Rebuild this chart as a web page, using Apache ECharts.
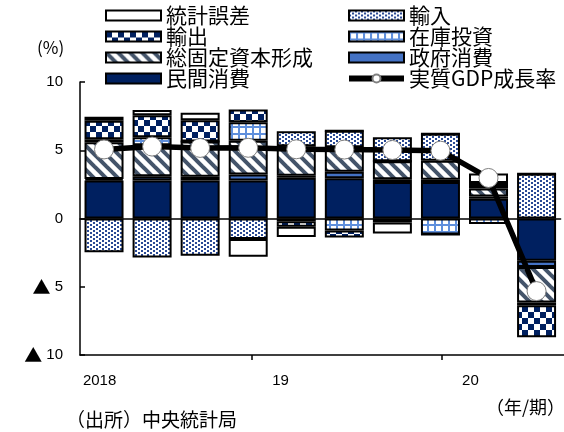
<!DOCTYPE html>
<html>
<head>
<meta charset="utf-8">
<script src="https://cdn.jsdelivr.net/npm/echarts@6/dist/echarts.min.js"></script>
<style>
  html, body { margin: 0; padding: 0; background: #fff; }
  #chart { width: 564px; height: 432px; }
</style>
</head>
<body>
<div id="chart"></div>
<script>
// Quarterly real GDP growth and expenditure-side contributions (%pt)
const quarters = ['2018Q1', '2018Q2', '2018Q3', '2018Q4', '2019Q1', '2019Q2', '2019Q3', '2019Q4', '2020Q1', '2020Q2'];
const privateConsumption = [2.79, 2.79, 2.79, 2.79, 2.98, 2.94, 2.67, 2.68, 1.45, -3.10];
const governmentConsumption = [0.10, 0.30, 0.26, 0.44, 0.15, 0.48, 0.20, 0.15, 0.17, -0.45];
const fixedInvestment = [2.70, 2.28, 2.60, 2.46, 2.16, 1.80, 1.32, 1.40, 0.58, -2.60];
const inventories = [0.22, 0.59, 0.00, 1.36, -0.20, -0.88, 0.00, -1.18, -0.40, -0.20];
const exportsContrib = [1.36, 1.61, 1.55, 0.93, -0.40, -0.52, -0.30, 0.00, 0.25, -2.35];
const importsContrib = [-2.48, -2.85, -2.72, -1.50, 1.11, 1.21, 1.77, 1.98, 0.15, 3.28];
const discrepancy = [0.29, 0.37, 0.55, -1.30, -0.75, 0.00, -0.80, 0.00, 0.70, 0.00];
const realGdpGrowth = [5.06, 5.27, 5.17, 5.18, 5.07, 5.05, 5.02, 4.97, 2.97, -5.32];

// Year axis: labels and ticks measured in quarters from the left edge
const yearLabels = ['2018', '19', '20'];
const yearLabelPos = [0.06, 4.0, 7.95];
const yearTickPos = [3.58, 7.53];
const quarterSpan = 10.07;

const NAVY = '#002060';
const BLUE = '#4472C4';

function makePattern(w, h, draw) {
  const c = document.createElement('canvas');
  c.width = w; c.height = h;
  const ctx = c.getContext('2d');
  ctx.fillStyle = '#ffffff';
  ctx.fillRect(0, 0, w, h);
  draw(ctx, w, h);
  return { image: c, repeat: 'repeat' };
}

const checkerFill = makePattern(12, 12, (ctx) => {
  ctx.fillStyle = NAVY;
  ctx.fillRect(0, 0, 6, 6);
  ctx.fillRect(6, 6, 6, 6);
});
const dottedFill = makePattern(6, 4, (ctx) => {
  ctx.fillStyle = '#2a4a95';
  ctx.fillRect(0, 0, 2, 2);
  ctx.fillRect(3, 2, 2, 2);
});
const gridFill = makePattern(7, 7, (ctx) => {
  ctx.fillStyle = '#5f8fdc';
  ctx.fillRect(0, 0, 7, 2);
  ctx.fillRect(0, 0, 2, 7);
});
const stripeFill = makePattern(12, 12, (ctx) => {
  ctx.strokeStyle = '#44546A';
  ctx.lineWidth = 4;
  for (const c of [-12, 0, 12]) {
    ctx.beginPath();
    ctx.moveTo(-2, c - 2);
    ctx.lineTo(14, c + 14);
    ctx.stroke();
  }
});

const border = { borderColor: '#000', borderWidth: 2 };

function barSeries(name, data, fill) {
  return {
    name, type: 'bar', stack: 'total', data,
    barWidth: 39,
    itemStyle: Object.assign({ color: fill }, border),
    z: 2
  };
}

function yearLabelAt(v) {
  const k = yearLabelPos.findIndex((p) => Math.abs(p - v) < 1e-6);
  return k >= 0 ? yearLabels[k] : '';
}

const chart = echarts.init(document.getElementById('chart'), null, { renderer: 'canvas' });

const legendText = { fontSize: 21, fontFamily: "'Noto Sans CJK JP', sans-serif", color: '#000', lineHeight: 20 };

chart.setOption({
  animation: false,
  backgroundColor: '#fff',
  legend: [
    {
      left: 105, top: 5, padding: 0, orient: 'vertical', itemWidth: 55, itemHeight: 10, itemGap: 0,
      selectedMode: false, textStyle: legendText,
      data: [
        { name: '統計誤差', icon: 'rect' },
        { name: '輸出', icon: 'rect' },
        { name: '総固定資本形成', icon: 'rect' },
        { name: '民間消費', icon: 'rect' }
      ]
    },
    {
      left: 346, top: 5, padding: 0, orient: 'vertical', itemWidth: 55, itemHeight: 10, itemGap: 0,
      selectedMode: false, textStyle: legendText,
      data: [
        { name: '輸入', icon: 'rect' },
        { name: '在庫投資', icon: 'rect' },
        { name: '政府消費', icon: 'rect' },
        { name: '実質GDP成長率', lineStyle: { width: 6, color: '#000' } }
      ]
    }
  ],
  grid: [
    { left: 80, right: 3.4, top: 82, bottom: 77 },
    { left: 80, right: 0, top: 82, bottom: 77 }
  ],
  xAxis: [
    {
      type: 'category', gridIndex: 0, data: quarters,
      axisLine: { onZero: true, lineStyle: { color: '#000', width: 1.5 } },
      axisTick: { show: false }, axisLabel: { show: false }
    },
    {
      type: 'value', gridIndex: 1, min: 0, max: quarterSpan, position: 'bottom',
      axisLine: { onZero: false, lineStyle: { color: '#000', width: 1.5 } },
      axisTick: { show: true, customValues: yearTickPos, length: 5, lineStyle: { color: '#000', width: 1.5 } },
      axisLabel: {
        show: true, customValues: yearLabelPos, align: 'left', margin: 18,
        showMinLabel: true, showMaxLabel: true, hideOverlap: false,
        fontSize: 15, fontFamily: "'Liberation Sans', sans-serif", color: '#000',
        formatter: (v) => yearLabelAt(v)
      },
      splitLine: { show: false }
    }
  ],
  yAxis: [
    {
      type: 'value', gridIndex: 0, min: -10, max: 10, interval: 5,
      axisLine: { show: true, lineStyle: { color: '#000', width: 1.5 } },
      axisTick: { show: true, inside: true, length: 5, lineStyle: { color: '#000', width: 1.5 } },
      splitLine: { show: false },
      axisLabel: {
        margin: 17, fontSize: 15, color: '#000',
        fontFamily: "'Liberation Sans', sans-serif",
        formatter: (v) => (v < 0 ? '{tri|▲} ' + (-v) : String(v)),
        rich: { tri: { fontSize: 18, fontFamily: "'Noto Sans CJK JP'", color: '#000' } }
      }
    },
    { type: 'value', gridIndex: 1, min: -10, max: 10, show: false }
  ],
  graphic: [
    { type: 'text', left: 37, top: 39, style: { text: '(%)', font: "17px 'Noto Sans CJK JP'", fill: '#000' } },
    { type: 'text', left: 486, top: 398, style: { text: '（年/期）', font: "18px 'Noto Sans CJK JP'", fill: '#000' } },
    { type: 'text', left: 66, top: 410, style: { text: '（出所）中央統計局', font: "19px 'Noto Sans CJK JP'", fill: '#000' } }
  ],
  series: [
    barSeries('民間消費', privateConsumption, NAVY),
    barSeries('政府消費', governmentConsumption, BLUE),
    barSeries('総固定資本形成', fixedInvestment, stripeFill),
    barSeries('在庫投資', inventories, gridFill),
    barSeries('輸出', exportsContrib, checkerFill),
    barSeries('輸入', importsContrib, dottedFill),
    barSeries('統計誤差', discrepancy, '#ffffff'),
    {
      name: '実質GDP成長率', type: 'line', data: realGdpGrowth,
      symbol: 'circle', symbolSize: 19,
      lineStyle: { color: '#000', width: 5.5 },
      itemStyle: { color: '#fff', borderColor: '#808080', borderWidth: 1 },
      z: 5
    }
  ]
});
</script>
</body>
</html>
